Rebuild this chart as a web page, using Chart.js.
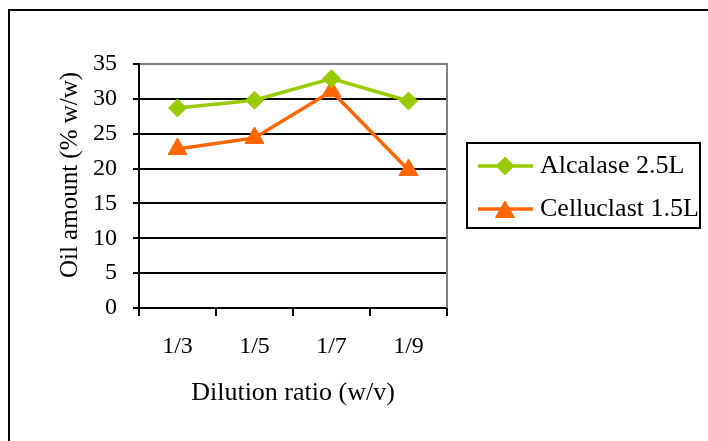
<!DOCTYPE html>
<html>
<head>
<meta charset="utf-8">
<script src="https://cdn.jsdelivr.net/npm/chart.js@4/dist/chart.umd.min.js"></script>
<style>
  html, body { margin: 0; padding: 0; background: #fff; }
  #wrap { width: 708px; height: 441px; position: relative; }
</style>
</head>
<body>
<div id="wrap"><canvas id="c" width="708" height="441"></canvas></div>
<script>
// Dilution ratios tested and oil recovered for each enzyme
const categories = ['1/3', '1/5', '1/7', '1/9'];
const alcalase = [28.7, 29.8, 32.9, 29.7];
const celluclast = [22.8, 24.4, 31.1, 19.8];
const seriesNames = ['Alcalase 2.5L', 'Celluclast 1.5L'];
const yTicks = [0, 5, 10, 15, 20, 25, 30, 35];
const xTitle = 'Dilution ratio (w/v)';
const yTitle = 'Oil amount (% w/w)';

const SERIF = "'Liberation Serif', 'Times New Roman', serif";
const GREEN = '#99CC00';
const ORANGE = '#FF6600';

// Frame, plot border, y title and legend box
const decorations = {
  id: 'decorations',
  beforeDraw(chart) {
    const ctx = chart.ctx;
    ctx.save();
    ctx.strokeStyle = '#000';
    ctx.lineWidth = 2;
    ctx.beginPath();
    ctx.moveTo(9, 441);
    ctx.lineTo(9, 10);
    ctx.lineTo(708, 10);
    ctx.stroke();
    ctx.restore();
  },
  afterDraw(chart) {
    const ctx = chart.ctx;
    const a = chart.chartArea;
    ctx.save();
    // right edge of the plot area
    ctx.strokeStyle = '#808080';
    ctx.lineWidth = 2;
    ctx.beginPath();
    ctx.moveTo(a.right, a.top - 1);
    ctx.lineTo(a.right, a.bottom);
    ctx.stroke();

    // vertical axis title
    ctx.fillStyle = '#000';
    ctx.font = '25px ' + SERIF;
    ctx.textAlign = 'center';
    ctx.textBaseline = 'middle';
    ctx.translate(70, 175);
    ctx.rotate(-Math.PI / 2);
    ctx.fillText(yTitle, 0, 0);
    ctx.restore();

    // legend
    ctx.save();
    ctx.strokeStyle = '#000';
    ctx.lineWidth = 2;
    ctx.strokeRect(467, 143, 233, 85);
    const rows = [166, 209];
    chart.data.datasets.forEach((ds, i) => {
      const y = rows[i];
      ctx.strokeStyle = ds.borderColor;
      ctx.lineWidth = ds.borderWidth;
      ctx.beginPath();
      ctx.moveTo(478, y);
      ctx.lineTo(533, y);
      ctx.stroke();
      ctx.fillStyle = ds.pointBackgroundColor;
      ctx.strokeStyle = ds.pointBorderColor;
      ctx.lineWidth = 1;
      Chart.helpers.drawPoint(ctx, {
        pointStyle: ds.pointStyle,
        radius: ds.pointRadius,
        rotation: 0,
        borderWidth: 1
      }, 505, y + (ds.pointStyle === 'triangle' ? 3 : 0));
      ctx.fillStyle = '#000';
      ctx.font = '26px ' + SERIF;
      ctx.textAlign = 'left';
      ctx.textBaseline = 'middle';
      ctx.fillText(ds.label, 540, y);
    });
    ctx.restore();
  }
};

new Chart(document.getElementById('c'), {
  type: 'line',
  data: {
    labels: categories,
    datasets: [
      {
        label: seriesNames[0],
        data: alcalase,
        borderColor: GREEN,
        backgroundColor: GREEN,
        pointBackgroundColor: GREEN,
        pointBorderColor: GREEN,
        pointStyle: 'rectRot',
        pointRadius: 9,
        pointBorderWidth: 1,
        borderWidth: 3.5,
        tension: 0
      },
      {
        label: seriesNames[1],
        data: celluclast,
        borderColor: ORANGE,
        backgroundColor: ORANGE,
        pointBackgroundColor: ORANGE,
        pointBorderColor: ORANGE,
        pointStyle: 'triangle',
        pointRadius: 11,
        pointBorderWidth: 1,
        borderWidth: 3.5,
        tension: 0
      }
    ]
  },
  options: {
    responsive: false,
    animation: false,
    devicePixelRatio: 1,
    layout: { padding: { left: 10, top: 64, right: 261, bottom: 0 } },
    plugins: {
      legend: { display: false },
      tooltip: { enabled: false },
      title: { display: false }
    },
    scales: {
      x: {
        offset: true,
        afterFit(scale) { scale.height = 133; },
        grid: {
          offset: true,
          drawOnChartArea: false,
          drawTicks: true,
          tickLength: 8,
          color: '#000',
          lineWidth: 2
        },
        border: { display: true, color: '#000', width: 2 },
        ticks: {
          color: '#000',
          font: { family: SERIF, size: 24 },
          padding: 16,
          maxRotation: 0
        },
        title: {
          display: true,
          text: xTitle,
          color: '#000',
          font: { family: SERIF, size: 26 },
          padding: { top: 0, bottom: 32 }
        }
      },
      y: {
        min: 0,
        max: 35,
        afterFit(scale) { scale.width = 129; },
        afterBuildTicks(scale) { scale.ticks = yTicks.map(v => ({ value: v })); },
        grid: {
          color: ctx => (ctx.tick && ctx.tick.value === 35 ? '#808080' : '#000'),
          tickColor: '#000',
          lineWidth: 2,
          drawTicks: true,
          tickLength: 6
        },
        border: { display: true, color: '#000', width: 2 },
        ticks: {
          color: '#000',
          font: { family: SERIF, size: 24 },
          padding: 16
        },
        title: { display: false }
      }
    }
  },
  plugins: [decorations]
});
</script>
</body>
</html>
